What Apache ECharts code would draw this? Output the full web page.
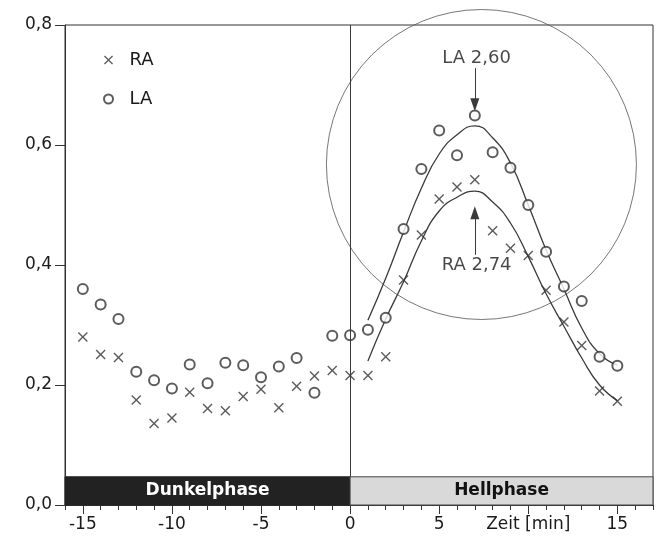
<!DOCTYPE html>
<html>
<head>
<meta charset="utf-8">
<script src="https://cdn.jsdelivr.net/npm/echarts@6/dist/echarts.min.js"></script>
<style>html,body{margin:0;padding:0;background:#fff}#c{width:661px;height:547px}</style>
</head>
<body>
<div id="c"></div>
<script>
// ---- data ----
const times = [-15,-14,-13,-12,-11,-10,-9,-8,-7,-6,-5,-4,-3,-2,-1,0,1,2,3,4,5,6,7,8,9,10,11,12,13,14,15];
const raValues = [0.280,0.251,0.246,0.175,0.136,0.145,0.188,0.161,0.157,0.181,0.193,0.162,0.198,0.215,0.224,0.216,
                  0.216,0.247,0.375,0.450,0.510,0.530,0.542,0.457,0.428,0.416,0.358,0.305,0.266,0.190,0.173];
const laValues = [0.360,0.334,0.310,0.222,0.208,0.194,0.234,0.203,0.237,0.233,0.213,0.231,0.245,0.187,0.282,0.283,
                  0.292,0.312,0.460,0.560,0.624,0.583,0.649,0.588,0.562,0.500,0.422,0.364,0.340,0.247,0.232];
const fitTimes = [1,2,3,4,5,6,7,8,9,10,11,12,13,14,15];
const laFit = [0.308,0.378,0.455,0.528,0.585,0.617,0.632,0.612,0.570,0.500,0.425,0.360,0.295,0.252,0.233];
const raFit = [0.240,0.310,0.372,0.440,0.490,0.513,0.523,0.505,0.470,0.414,0.352,0.298,0.245,0.200,0.174];
const phaseNames = ['Dunkelphase','Hellphase'];
const phaseFrom = [-16, 0];
const phaseTo = [0, 17];
const phaseHeight = 0.047;
const xMajorTicks = [-15,-10,-5,0,5,10,15];
const xMinorTicks = [-16,-15,-14,-13,-12,-11,-10,-9,-8,-7,-6,-5,-4,-3,-2,-1,0,1,2,3,4,5,6,7,8,9,10,11,12,13,14,15,16,17];
const xAxisTitle = 'Zeit [min]';
const xAxisTitleAt = 10;
const annotText = ['LA 2,60','RA 2,74'];
const annotLabelX = [7.1, 7.1];
const annotLabelY = [0.745, 0.400];
const arrowX = [7, 7];
const arrowFrom = [0.728, 0.417];
const arrowTo = [0.667, 0.487];
const highlightCenter = [7.37, 0.5675];

// ---- chart ----
const FONT = 'DejaVu Sans';
const TXT = '#1a1a1a';
const LINE = '#3a3a3a';
const crossPath = 'path://M0,1L1,0L5,4L9,0L10,1L6,5L10,9L9,10L5,6L1,10L0,9L4,5Z';

const chart = echarts.init(document.getElementById('c'), null, {renderer: 'canvas'});

const baseX = {
  type: 'value', min: -16, max: 17, gridIndex: 0, position: 'bottom',
  splitLine: {show: false}
};

const phaseAreas = phaseNames.map((n, i) => [
  {
    name: n, xAxis: phaseFrom[i], yAxis: 0,
    itemStyle: i === 0 ? {color: '#222', borderColor: '#222', borderWidth: 1}
                       : {color: '#d9d9d9', borderColor: '#444', borderWidth: 1},
    label: {show: true, position: 'inside', formatter: n, color: i === 0 ? '#fff' : '#111',
            fontFamily: FONT, fontWeight: 'bold', fontSize: 17}
  },
  {xAxis: phaseTo[i], yAxis: phaseHeight}
]);

const arrows = arrowX.map((x, i) => [
  {coord: [x, arrowFrom[i]], symbol: 'none'},
  {coord: [x, arrowTo[i]], symbol: 'triangle', symbolSize: [9, 13], symbolRotate: arrowTo[i] < arrowFrom[i] ? 180 : 0}
]);

const option = {
  animation: false,
  backgroundColor: '#fff',
  textStyle: {fontFamily: FONT, color: TXT},
  grid: {left: 65, right: 8, top: 25, bottom: 42, show: true, borderColor: '#333', borderWidth: 1, backgroundColor: 'transparent'},
  legend: {
    orient: 'vertical', left: 98, top: 46, itemWidth: 32, itemHeight: 9, itemGap: 21,
    selectedMode: false,
    data: ['RA', 'LA'],
    textStyle: {fontFamily: FONT, fontSize: 18, color: TXT}
  },
  xAxis: [
    Object.assign({}, baseX, {
      axisLine: {show: true, onZero: false, lineStyle: {color: '#333', width: 1}},
      axisTick: {show: true, customValues: xMajorTicks, length: 9, lineStyle: {color: '#333'}},
      axisLabel: {show: true, customValues: xMajorTicks, margin: 11, fontSize: 17, color: TXT, fontFamily: FONT,
                  formatter: v => v === xAxisTitleAt ? xAxisTitle : String(v)}
    }),
    Object.assign({}, baseX, {
      axisLine: {show: false, onZero: false},
      axisTick: {show: true, customValues: xMinorTicks, length: 5, lineStyle: {color: '#333'}},
      axisLabel: {show: false}
    })
  ],
  yAxis: {
    type: 'value', min: 0, max: 0.8, interval: 0.2,
    splitLine: {show: false},
    axisLine: {show: true, onZero: false, lineStyle: {color: '#333', width: 1}},
    axisTick: {show: true, length: 10, lineStyle: {color: '#333'}},
    axisLabel: {margin: 13, fontSize: 17, color: TXT, fontFamily: FONT,
                formatter: v => v.toFixed(1).replace('.', ',')}
  },
  series: [
    {
      name: 'phases', type: 'line', data: [], silent: true, xAxisIndex: 0,
      markArea: {silent: true, data: phaseAreas},
      markLine: {
        silent: true, symbol: 'none', animation: false,
        lineStyle: {color: LINE, width: 1, type: 'solid'},
        label: {show: false},
        data: [[{coord: [0, phaseHeight]}, {coord: [0, 0.8]}]].concat(arrows)
      }
    },
    {
      name: 'highlight', type: 'scatter', silent: true, clip: false,
      data: [highlightCenter], symbol: 'circle', symbolSize: 310,
      itemStyle: {color: 'rgba(0,0,0,0)', borderColor: '#555', borderWidth: 1}, z: 1
    },
    {
      name: 'LA fit', type: 'line', smooth: 0.5, showSymbol: false, silent: true,
      data: fitTimes.map((t, i) => [t, laFit[i]]),
      lineStyle: {color: LINE, width: 1.3}, z: 2
    },
    {
      name: 'RA fit', type: 'line', smooth: 0.5, showSymbol: false, silent: true,
      data: fitTimes.map((t, i) => [t, raFit[i]]),
      lineStyle: {color: LINE, width: 1.3}, z: 2
    },
    {
      name: 'RA', type: 'scatter', symbol: crossPath, symbolSize: 10,
      data: times.map((t, i) => [t, raValues[i]]),
      itemStyle: {color: '#333'}, z: 3
    },
    {
      name: 'LA', type: 'scatter', symbol: 'emptyCircle', symbolSize: 10,
      data: times.map((t, i) => [t, laValues[i]]),
      itemStyle: {color: '#333', borderWidth: 1.3}, z: 3
    },
    {
      name: 'annotations', type: 'scatter', silent: true, clip: false, symbolSize: 1,
      data: annotText.map((s, i) => [annotLabelX[i], annotLabelY[i], s]),
      itemStyle: {color: 'rgba(0,0,0,0)'},
      label: {show: true, position: 'inside', formatter: p => p.value[2], fontSize: 18, color: TXT, fontFamily: FONT},
      z: 4
    }
  ]
};
chart.setOption(option);
</script>
</body>
</html>
